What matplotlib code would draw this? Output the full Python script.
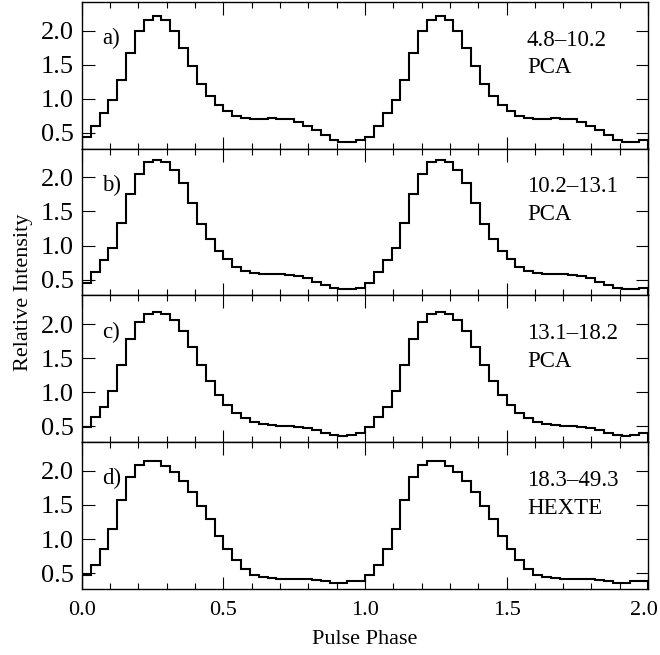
import matplotlib
matplotlib.use('Agg')
import matplotlib.pyplot as plt
import matplotlib.transforms as mtransforms
import numpy as np
from matplotlib.ticker import MultipleLocator

plt.rcParams['font.family'] = ['Liberation Serif', 'DejaVu Serif']

# one pulse cycle, 32 phase bins; the profile is shown twice (phase 0-2)
prof_a = [0.44, 0.60, 0.79, 0.99, 1.28, 1.67, 1.99, 2.16, 2.21, 2.15, 1.99, 1.75, 1.48, 1.22, 1.04, 0.91,
          0.82, 0.75, 0.72, 0.70, 0.71, 0.72, 0.71, 0.70, 0.66, 0.60, 0.54, 0.47, 0.40, 0.37, 0.37, 0.39]
prof_b = [0.45, 0.62, 0.79, 0.97, 1.33, 1.75, 2.05, 2.22, 2.26, 2.23, 2.11, 1.92, 1.62, 1.32, 1.09, 0.92,
          0.80, 0.69, 0.63, 0.60, 0.58, 0.58, 0.58, 0.57, 0.55, 0.52, 0.47, 0.42, 0.38, 0.36, 0.36, 0.38]
prof_c = [0.49, 0.64, 0.79, 1.02, 1.40, 1.78, 2.03, 2.15, 2.17, 2.15, 2.06, 1.90, 1.67, 1.40, 1.17, 0.96,
          0.81, 0.70, 0.62, 0.56, 0.53, 0.52, 0.51, 0.50, 0.49, 0.48, 0.45, 0.41, 0.38, 0.36, 0.37, 0.40]
prof_d = [0.47, 0.62, 0.85, 1.15, 1.57, 1.91, 2.08, 2.14, 2.14, 2.07, 1.98, 1.85, 1.69, 1.48, 1.29, 1.05,
          0.86, 0.70, 0.56, 0.48, 0.45, 0.43, 0.42, 0.42, 0.41, 0.42, 0.40, 0.38, 0.36, 0.36, 0.38, 0.39]

profiles = [prof_a, prof_b, prof_c, prof_d]
panel_tags = ['a)', 'b)', 'c)', 'd)']
energy_bands = ['4.8\u201310.2', '10.2\u201313.1', '13.1\u201318.2', '18.3\u201349.3']
instruments = ['PCA', 'PCA', 'PCA', 'HEXTE']

n_bins = 32
edges = np.linspace(0, 2, 2 * n_bins + 1)

fig = plt.figure(figsize=(6.6, 6.55), dpi=100)
fig.subplots_adjust(left=0.124, right=0.982, bottom=0.101, top=0.997, hspace=0)
axes = fig.subplots(4, 1, sharex=True)

for ax, prof, tag, band, inst in zip(axes, profiles, panel_tags, energy_bands, instruments):
    vals = np.tile(prof, 2)
    ax.stairs(vals, edges, color='black', linewidth=1.5)
    ax.set_xlim(0, 2)
    ax.set_ylim(0.27, 2.42)
    ax.xaxis.set_major_locator(MultipleLocator(0.5))
    ax.xaxis.set_minor_locator(MultipleLocator(0.1))
    ax.tick_params(which='both', direction='in', top=True, right=True)
    ax.tick_params(which='major', length=9, width=0.8)
    ax.tick_params(which='minor', length=4.5, width=0.8)
    ax.tick_params(axis='y', labelsize=19, pad=6)
    ax.set_yticks([0.5, 1.0, 1.5, 2.0])
    ax.set_yticklabels(['0.5', '1.0', '1.5', '2.0'])
    for s in ax.spines.values():
        s.set_linewidth(1.0)
    ax.text(0.036, 0.75, tag, transform=ax.transAxes, fontsize=16.5, va='center', ha='left')
    ax.text(0.786, 0.74, band, transform=ax.transAxes, fontsize=16.5, va='center', ha='left')
    ax.text(0.786, 0.55, inst, transform=ax.transAxes, fontsize=16.5, va='center', ha='left')

axes[-1].set_xticks([0, 0.5, 1.0, 1.5, 2.0])
axes[-1].set_xticklabels(['0.0', '0.5', '1.0', '1.5', '2.0'])
axes[-1].tick_params(axis='x', labelsize=16, pad=9)
axes[-1].set_xlabel('Pulse Phase', fontsize=16, labelpad=7)
# nudge the last label so it stays inside the figure
last = axes[-1].get_xticklabels()[-1]
last.set_transform(last.get_transform() + mtransforms.ScaledTranslation(-3 / 72, 0, fig.dpi_scale_trans))
fig.text(0.035, 0.553, 'Relative Intensity', rotation=90, fontsize=16, va='center', ha='center')

fig.savefig('out.png', dpi=100)
